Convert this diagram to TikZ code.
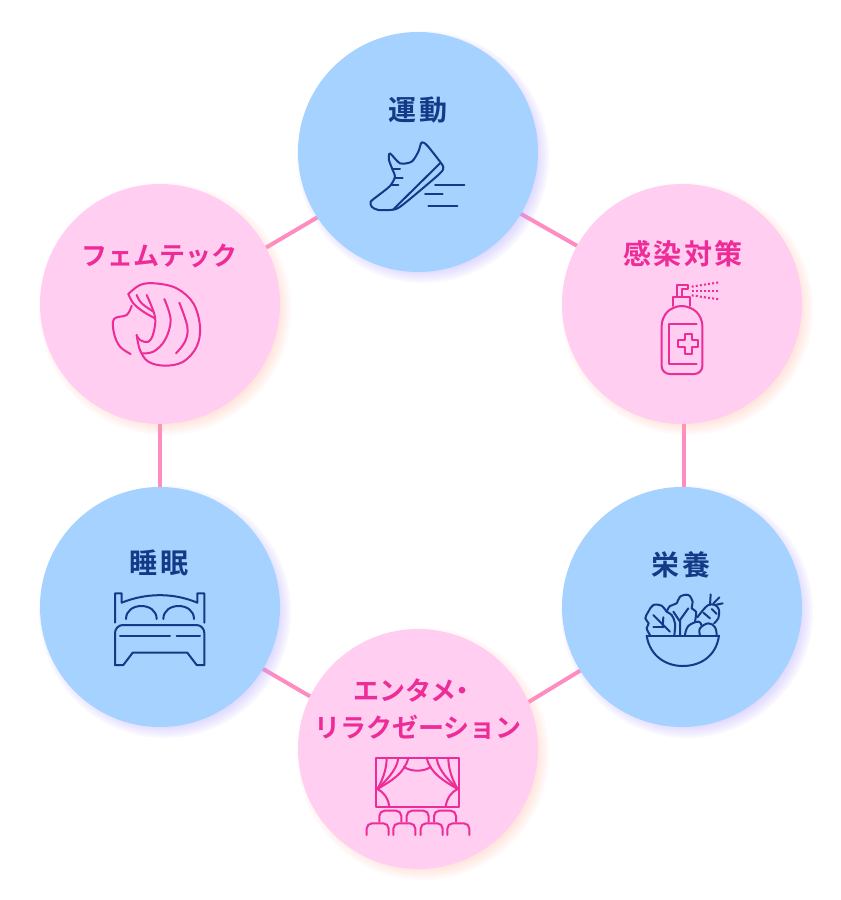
\documentclass[tikz,border=0pt]{standalone}
\usepackage{fontspec}
\usetikzlibrary{backgrounds}
\newfontfamily\jpfont[LetterSpace=9]{Noto Sans CJK JP Bold}
\newfontfamily\kanafont{Noto Sans CJK JP Bold}
\definecolor{skyfill}{HTML}{A5D2FF}
\definecolor{rosefill}{HTML}{FFCEF0}
\definecolor{navyline}{HTML}{123A87}
\definecolor{magline}{HTML}{EE2C98}
\definecolor{linkpink}{HTML}{FF8CC0}
\definecolor{skyglow}{HTML}{B4A8FF}
\definecolor{roseglow}{HTML}{FFB09A}
\tikzset{
  bluedisc/.style={circle,fill=skyfill,minimum size=180pt,inner sep=0pt,outer sep=0pt},
  pinkdisc/.style={circle,fill=rosefill,minimum size=180pt,inner sep=0pt,outer sep=0pt},
  linkline/.style={draw=linkpink,line width=3pt},
  bluetext/.style={text=navyline,font=\jpfont\fontsize{21}{25}\selectfont},
  pinktext/.style={text=magline,font=\jpfont\fontsize{21}{25}\selectfont},
  kanatext/.style={text=magline,font=\kanafont\fontsize{19.5}{24}\selectfont},
  blueicon/.style={draw=navyline,line width=1.5pt,line cap=round,line join=round},
  pinkicon/.style={draw=magline,line width=1.5pt,line cap=round,line join=round},
  spraydots/.style={line cap=butt,dash pattern=on 1.5pt off 1.6pt},
  zoomed/.style 2 args={shift={(#1,#2)},x=0.25pt,y=-0.25pt}
}
\begin{document}
\begin{tikzpicture}[x=0.75pt,y=-0.75pt]
  \useasboundingbox (0,0) rectangle (840,900);
  % discs
  \node[bluedisc] (undo) at (418,152) {};
  \node[pinkdisc] (kansen) at (682,304) {};
  \node[bluedisc] (eiyo) at (682,607) {};
  \node[pinkdisc] (enta) at (418,749) {};
  \node[bluedisc] (suimin) at (160,607) {};
  \node[pinkdisc] (femtech) at (160,304) {};
  \begin{pgfonlayer}{background}
    \draw[linkline] (undo.-31.3) -- (kansen.151.1);
    \draw[linkline] (kansen.-89) -- (eiyo.89);
    \draw[linkline] (eiyo.212.1) -- (enta.23.6);
    \draw[linkline] (enta.154.3) -- (suimin.-31.7);
    \draw[linkline] (suimin.90) -- (femtech.-90);
    \draw[linkline] (femtech.28.3) -- (undo.213.2);
    % soft glow
    \foreach \cx/\cy/\glow/\op in {418/152/skyglow/0.08,682/607/skyglow/0.08,160/607/skyglow/0.08,682/304/roseglow/0.06,418/749/roseglow/0.06,160/304/roseglow/0.06}
      \foreach \r in {112,114,...,126}
        \fill[\glow,opacity=\op] (\cx+5,\cy+5) circle[radius=\r*0.75pt];
  \end{pgfonlayer}
  % labels
  \node[bluetext] (undolabel) at (418,110) {運動};
  \node[pinktext] (kansenlabel) at (683,254) {感染対策};
  \node[bluetext] (eiyolabel) at (681,565) {栄養};
  \node[kanatext] (entalabel) at (414.5,690) {エンタメ\kern-5pt・};
  \node[kanatext] (rirakulabel) at (418,727) {リラクゼーション};
  \node[bluetext] (suiminlabel) at (159,563) {睡眠};
  \node[kanatext] (femtechlabel) at (159,256) {フェムテック};
  % shoe
  \begin{scope}[zoomed={340}{80},blueicon]
    \draw plot[smooth cycle,tension=0.45] coordinates {(150,220) (180,250) (215,245) (235,215) (245,187) (262,197) (300,245) (310,262) (298,282) (200,365) (165,388) (115,390) (95,380) (92,365) (110,350) (150,318) (165,290) (158,270) (147,240)};
    \draw (300,250) -- (160,388);
    \draw (160,268) -- (180,268);
    \draw (165,295) -- (188,295);
    \draw (155,315) -- (175,315);
    \draw (285,315) -- (373,315);
    \draw (255,343) -- (308,343);
    \draw (265,378) -- (352,378);
  \end{scope}
  % spray bottle
  \begin{scope}[zoomed={600}{230},pinkicon]
    \draw[rounded corners=6pt] (185,432) -- (185,262) -- (220,228) -- (270,228) -- (307,262) -- (307,432) -- cycle;
    \draw (220,228) -- (220,200) -- (270,200) -- (270,228);
    \draw (230,200) -- (230,165) -- (263,165);
    \draw (263,165) -- (263,178) -- (245,178) -- (245,200);
    \draw (290,282) -- (208,282) -- (208,402) -- (290,402);
    \draw (254,312) -- (275,312) -- (275,331) -- (294,331) -- (294,352) -- (275,352) -- (275,371) -- (254,371) -- (254,352) -- (235,352) -- (235,331) -- (254,331) -- cycle;
    \draw[spraydots] (275,170) -- (357,157);
    \draw[spraydots] (275,182) -- (357,182);
    \draw[spraydots] (275,196) -- (357,208);
  \end{scope}
  % salad bowl
  \begin{scope}[zoomed={620}{540},blueicon]
    \draw (80,287) -- (297,287);
    \draw (80,287) .. controls (90,350) and (140,378) .. (188,378) .. controls (240,378) and (288,350) .. (297,287);
    \draw plot[smooth,tension=0.6] coordinates {(90,285) (80,265) (86,250) (76,235) (85,215) (100,195) (125,197) (140,215) (155,225) (165,250) (163,285)};
    \draw (100,225) -- (150,275);
    \draw (130,232) -- (128,262);
    \draw (100,262) -- (130,262);
    \draw plot[smooth,tension=0.6] coordinates {(140,215) (150,198) (170,190) (180,170) (205,165) (218,185) (215,205) (228,215) (225,245)};
    \draw (180,285) -- (180,240) -- (205,205);
    \draw (160,215) -- (180,245);
    \draw plot[smooth,tension=0.6] coordinates {(232,232) (262,197) (285,195) (297,210) (295,235) (282,250)};
    \draw (270,195) -- (272,163);
    \draw (280,190) -- (298,172);
    \draw (285,195) -- (308,190);
    \draw (250,218) -- (270,235);
    \draw (275,207) -- (290,222);
    \draw plot[smooth,tension=0.7] coordinates {(195,285) (205,258) (235,245) (245,258)};
    \draw plot[smooth,tension=0.7] coordinates {(240,285) (240,265) (265,250) (285,262) (290,285)};
  \end{scope}
  % stage and seats
  \begin{scope}[zoomed={340}{740},pinkicon]
    \draw (108,53) rectangle (357,200);
    \draw (192,80) .. controls (210,96) and (255,96) .. (272,80);
    \draw (205,53) .. controls (195,100) and (150,125) .. (112,147);
    \draw (175,55) .. controls (170,90) and (140,120) .. (112,147);
    \draw (140,55) .. controls (140,90) and (125,125) .. (112,147);
    \draw (260,53) .. controls (270,100) and (315,125) .. (353,147);
    \draw (290,55) .. controls (295,90) and (325,120) .. (353,147);
    \draw (325,55) .. controls (325,90) and (340,125) .. (353,147);
    \draw (112,147) .. controls (130,155) and (145,175) .. (148,200);
    \draw (353,147) .. controls (335,155) and (320,175) .. (317,200);
    \foreach \sx in {118,200,282}
      \draw[rounded corners=4pt] (\sx,245) -- (\sx,212) -- (\sx+66,212) -- (\sx+66,245);
    \foreach \sx in {80,160,242,322}
      \draw[rounded corners=4pt] (\sx,285) -- (\sx,250) -- (\sx+66,250) -- (\sx+66,285);
  \end{scope}
  % bed
  \begin{scope}[zoomed={90}{580},blueicon]
    \draw (75,128) -- (75,40) -- (95,40) -- (95,68) .. controls (170,38) and (250,38) .. (322,68) -- (322,40) -- (343,40) -- (343,128);
    \draw (108,117) .. controls (108,65) and (200,65) .. (200,117);
    \draw (220,117) .. controls (220,65) and (312,65) .. (312,117);
    \draw[rounded corners=6pt] (75,255) -- (75,135) -- (343,135) -- (343,255);
    \draw (75,255) -- (100,255) -- (128,218) -- (292,218) -- (320,255) -- (343,255);
    \draw (90,168) -- (240,168);
    \draw (260,168) -- (330,168);
  \end{scope}
  % hair
  \begin{scope}[zoomed={90}{270},pinkicon]
    \draw plot[smooth,tension=0.6] coordinates {(115,72) (150,45) (195,40) (260,55) (310,100) (330,170) (320,230) (280,275) (225,287) (175,275) (150,240) (140,195)};
    \draw plot[smooth,tension=0.6] coordinates {(140,195) (150,210) (175,215) (190,190) (195,140) (170,75)};
    \draw plot[smooth,tension=0.6] coordinates {(115,72) (130,100) (160,125) (195,145)};
    \draw plot[smooth,tension=0.6] coordinates {(140,75) (155,100) (190,125)};
    \draw plot[smooth,tension=0.6] coordinates {(125,107) (110,135) (72,147) (72,190) (90,230) (122,252)};
    \draw plot[smooth,tension=0.6] coordinates {(223,87) (242,150) (225,210) (190,245) (155,250)};
    \draw plot[smooth,tension=0.6] coordinates {(268,98) (292,170) (285,215) (258,250)};
  \end{scope}
\end{tikzpicture}
\end{document}
